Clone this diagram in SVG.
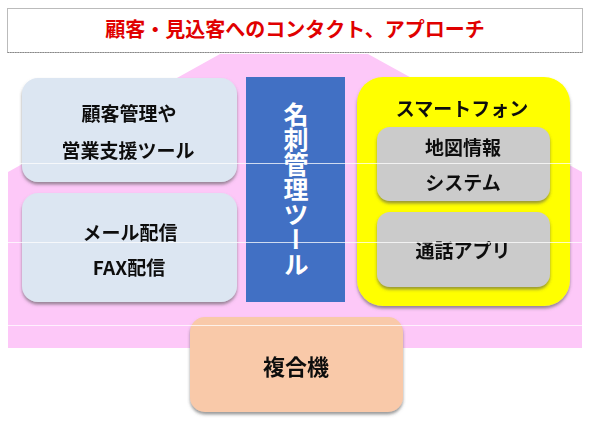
<svg xmlns="http://www.w3.org/2000/svg" width="590" height="423" viewBox="0 0 590 423">
<defs>
<filter id="sh" x="-10%" y="-10%" width="120%" height="130%">
<feDropShadow dx="0" dy="2.5" stdDeviation="1.5" flood-color="#555" flood-opacity="0.6"/>
</filter>
</defs>
<style>
text{font-family:"Noto Sans CJK JP","Noto Sans",sans-serif;font-weight:bold;text-anchor:middle;fill:#111}
.lb{fill:#DCE6F2}
.gr{fill:#CBCBCB}
.seam{stroke:#fff;stroke-width:1;opacity:0.75}
</style>
<rect width="590" height="423" fill="#fff"/>
<g id="background">
<polygon points="220,54 368,54 582,172 582,348 8,348 8,172" fill="#FDC8F8"/>
</g>
<g id="title">
<rect x="7.5" y="8.5" width="575" height="44" fill="#fff" stroke="#bbb" stroke-width="1"/>
<line x1="7.5" y1="52.5" x2="582.5" y2="52.5" stroke="#888" stroke-width="1.2" stroke-dasharray="1.5,1"/>
<text x="295" y="37" font-size="20" style="fill:#E00000">顧客・見込客へのコンタクト、アプローチ</text>
</g>
<g id="crm" filter="url(#sh)">
<rect x="22" y="78" width="215" height="104" rx="16" class="lb"/>
<text x="129" y="121" font-size="19">顧客管理や</text>
<text x="128" y="158" font-size="19">営業支援ツール</text>
</g>
<g id="mail" filter="url(#sh)">
<rect x="22" y="193" width="215" height="109" rx="16" class="lb"/>
<text x="130" y="240" font-size="19">メール配信</text>
<text x="129" y="275" font-size="19">FAX配信</text>
</g>
<g id="meishi">
<rect x="246" y="77" width="99" height="225" fill="#4170C4"/>
<text x="296" y="189" font-size="25" style="fill:#fff;writing-mode:vertical-rl">名刺管理ツール</text>
</g>
<g id="smartphone" filter="url(#sh)">
<rect x="357" y="77" width="213" height="229" rx="26" fill="#FFFF00"/>
<text x="462" y="116" font-size="19">スマートフォン</text>
</g>
<g id="map" filter="url(#sh)">
<rect x="377" y="127" width="173" height="74" rx="13" class="gr"/>
<text x="463" y="155" font-size="19">地図情報</text>
<text x="463" y="190" font-size="19">システム</text>
</g>
<g id="call" filter="url(#sh)">
<rect x="377" y="212" width="173" height="75" rx="13" class="gr"/>
<text x="463" y="258" font-size="19">通話アプリ</text>
</g>
<g id="mfp" filter="url(#sh)">
<rect x="190" y="317" width="213" height="95" rx="15" fill="#F9C9A9"/>
<text x="296" y="375" font-size="22">複合機</text>
</g>
<g id="connectors"/>
<g id="seams">
<line x1="0" y1="163.5" x2="590" y2="163.5" class="seam"/>
<line x1="0" y1="242.5" x2="590" y2="242.5" class="seam"/>
<line x1="0" y1="325.5" x2="590" y2="325.5" class="seam"/>
</g>
</svg>
